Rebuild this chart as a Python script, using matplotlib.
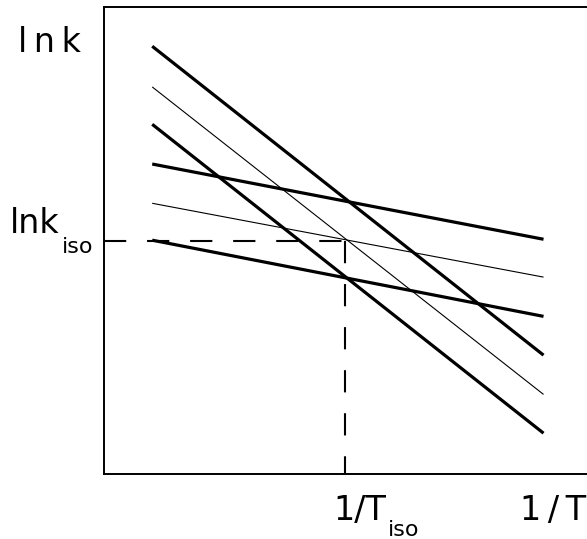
import matplotlib.pyplot as plt

plt.rcParams["lines.scale_dashes"] = False

# straight lnk vs 1/T lines, given by their end values
x_start = 10.0
x_end = 91.0
y_start = [91.6, 82.9, 74.9, 66.4, 58.0, 50.1]
y_end = [25.5, 17.1, 8.8, 50.3, 42.2, 33.8]
widths = [2.3, 0.8, 2.3, 2.3, 0.8, 2.3]

# isokinetic point
iso_x = 50.0
iso_y = 50.0

fig = plt.figure(figsize=(5.87, 5.39), dpi=100)
ax = fig.add_axes([0.177, 0.12, 0.823, 0.867])
ax.set_xlim(0, 100)
ax.set_ylim(0, 100)

for y0, y1, lw in zip(y_start, y_end, widths):
    ax.plot([x_start, x_end], [y0, y1], color="black", lw=lw,
            solid_capstyle="butt")

# dashed guides to the iso point
ax.plot([0, iso_x], [iso_y, iso_y], color="black", lw=1.5, dashes=(16, 15))
ax.plot([iso_x, iso_x], [iso_y, 0], color="black", lw=1.5, dashes=(16, 15))

ax.set_xticks([])
ax.set_yticks([])
ax.spines["right"].set_visible(False)
for s in ["left", "bottom", "top"]:
    ax.spines[s].set_linewidth(1.4)

fs = 24
sub = 16
# axis names
fig.text(18 / 587, 1 - 52 / 539, "l\u2009n\u2009k", fontsize=fs, va="baseline", ha="left")
fig.text(520 / 587, 1 - 520 / 539, "1\u2009/\u2009T", fontsize=fs, va="baseline", ha="left")

# iso labels
ax.annotate("lnk", xy=(0, iso_y), xycoords=("axes fraction", "data"),
            xytext=(-31.7, 5.8), textcoords="offset points",
            fontsize=fs, ha="right", va="baseline", annotation_clip=False)
ax.annotate("iso", xy=(0, iso_y), xycoords=("axes fraction", "data"),
            xytext=(-30.2, -8.6), textcoords="offset points",
            fontsize=sub, ha="left", va="baseline", annotation_clip=False)
ax.annotate("1/T", xy=(iso_x, 0), xycoords="data",
            xytext=(-8.6, -33), textcoords="offset points",
            fontsize=fs, ha="left", va="baseline", annotation_clip=False)
ax.annotate("iso", xy=(iso_x, 0), xycoords="data",
            xytext=(30.2, -44.6), textcoords="offset points",
            fontsize=sub, ha="left", va="baseline", annotation_clip=False)

fig.savefig("out.png", dpi=100)
